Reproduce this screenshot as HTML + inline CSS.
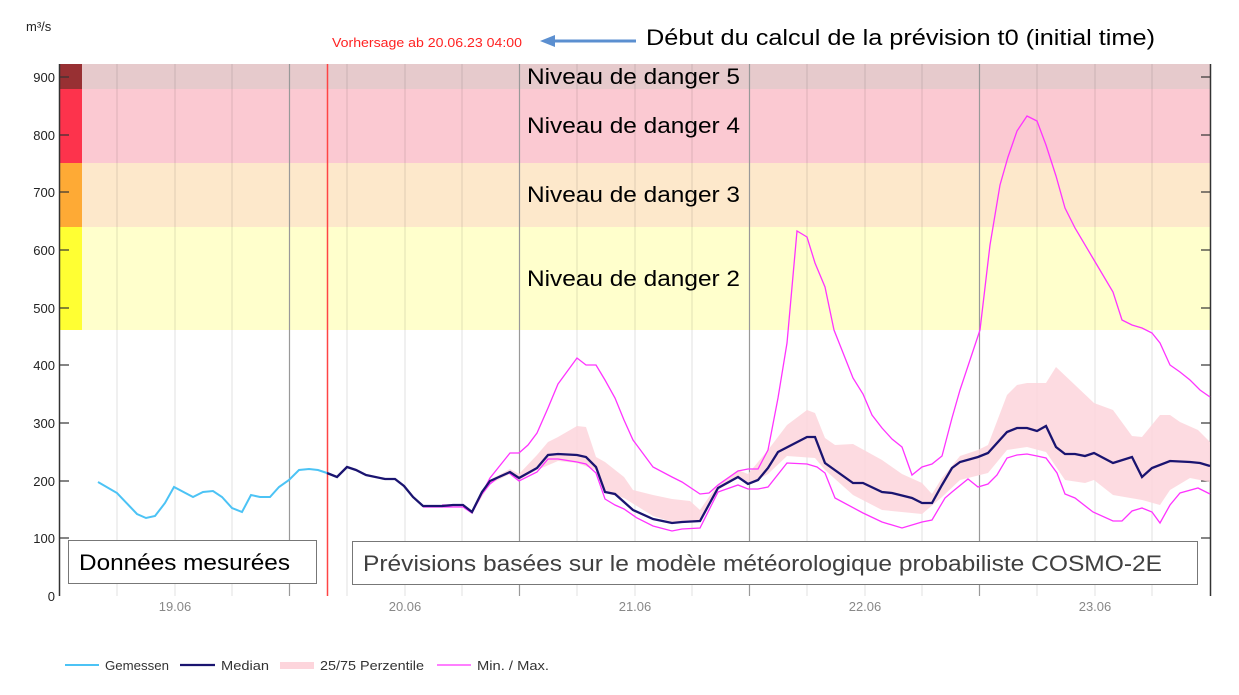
<!DOCTYPE html>
<html><head><meta charset="utf-8"><style>
body{margin:0;background:#fff;width:1239px;height:695px;overflow:hidden}
svg{display:block;font-family:"Liberation Sans",sans-serif}
</style></head><body>
<svg width="1239" height="695" viewBox="0 0 1239 695" xmlns="http://www.w3.org/2000/svg">
<rect x="82" y="64" width="1128" height="25" fill="#e6cacc"/>
<rect x="82" y="89" width="1128" height="74" fill="#fbc9d2"/>
<rect x="82" y="163" width="1128" height="64" fill="#fde8cb"/>
<rect x="82" y="227" width="1128" height="103" fill="#ffffcc"/>
<rect x="60" y="64" width="22" height="25" fill="#983033"/>
<rect x="60" y="89" width="22" height="74" fill="#fd334c"/>
<rect x="60" y="163" width="22" height="64" fill="#feaa35"/>
<rect x="60" y="227" width="22" height="103" fill="#ffff33"/>
<g stroke="#000" stroke-opacity="0.08" stroke-width="1.5">
<line x1="117" y1="64" x2="117" y2="596"/><line x1="175" y1="64" x2="175" y2="596"/><line x1="232" y1="64" x2="232" y2="596"/>
<line x1="347" y1="64" x2="347" y2="596"/><line x1="405" y1="64" x2="405" y2="596"/><line x1="462" y1="64" x2="462" y2="596"/>
<line x1="577" y1="64" x2="577" y2="596"/><line x1="635" y1="64" x2="635" y2="596"/><line x1="692" y1="64" x2="692" y2="596"/>
<line x1="807" y1="64" x2="807" y2="596"/><line x1="865" y1="64" x2="865" y2="596"/><line x1="922" y1="64" x2="922" y2="596"/>
<line x1="1037" y1="64" x2="1037" y2="596"/><line x1="1095" y1="64" x2="1095" y2="596"/><line x1="1152" y1="64" x2="1152" y2="596"/>
</g>
<g stroke="#999" stroke-width="1.2">
<line x1="289.5" y1="64" x2="289.5" y2="596"/><line x1="519.5" y1="64" x2="519.5" y2="596"/><line x1="749.5" y1="64" x2="749.5" y2="596"/><line x1="979.5" y1="64" x2="979.5" y2="596"/>
</g>
<line x1="327.5" y1="64" x2="327.5" y2="596" stroke="#f44" stroke-width="1.5"/>
<line x1="59.5" y1="64" x2="59.5" y2="596" stroke="#333" stroke-width="1.5"/>
<line x1="1210.5" y1="64" x2="1210.5" y2="596" stroke="#333" stroke-width="1.5"/>
<g stroke="#333" stroke-width="1.2">
<line x1="60" y1="77" x2="69" y2="77"/><line x1="60" y1="135" x2="69" y2="135"/><line x1="60" y1="192" x2="69" y2="192"/><line x1="60" y1="250" x2="69" y2="250"/><line x1="60" y1="308" x2="69" y2="308"/><line x1="60" y1="365" x2="69" y2="365"/><line x1="60" y1="423" x2="69" y2="423"/><line x1="60" y1="481" x2="69" y2="481"/><line x1="60" y1="538" x2="69" y2="538"/>
<line x1="1201" y1="77" x2="1210" y2="77"/><line x1="1201" y1="135" x2="1210" y2="135"/><line x1="1201" y1="192" x2="1210" y2="192"/><line x1="1201" y1="250" x2="1210" y2="250"/><line x1="1201" y1="308" x2="1210" y2="308"/><line x1="1201" y1="365" x2="1210" y2="365"/><line x1="1201" y1="423" x2="1210" y2="423"/><line x1="1201" y1="481" x2="1210" y2="481"/><line x1="1201" y1="538" x2="1210" y2="538"/>
</g>
<g font-size="13" fill="#222" text-anchor="end">
<text x="55" y="82">900</text><text x="55" y="140">800</text><text x="55" y="197">700</text><text x="55" y="255">600</text><text x="55" y="313">500</text><text x="55" y="370">400</text><text x="55" y="428">300</text><text x="55" y="486">200</text><text x="55" y="543">100</text><text x="55" y="601">0</text>
</g>
<text x="26" y="31" font-size="13" fill="#222">m³/s</text>
<g font-size="13" fill="#888" text-anchor="middle">
<text x="175" y="611">19.06</text><text x="405" y="611">20.06</text><text x="635" y="611">21.06</text><text x="865" y="611">22.06</text><text x="1095" y="611">23.06</text>
</g>
<polygon fill="#fdd5dc" fill-opacity="0.85" points="472,510 490,480 510,469 519,474 537,455 548,442 558,437 577,426 586,427 596,457 605,462 624,477 633,490 653,495 672,499 690,501 700,510 718,484 738,470 748,474 768,450 787,425 807,410 815,413 825,438 835,445 853,444 882,460 902,474 922,483 932,494 942,478 960,456 978,450 988,445 1007,395 1017,385 1027,383 1046,383 1056,367 1075,385 1094,403 1113,410 1132,436 1142,437 1160,415 1170,415 1180,422 1198,430 1210,442 1210,482 1190,478 1170,490 1160,505 1142,500 1113,495 1094,480 1085,483 1065,480 1046,452 1027,447 1007,450 988,473 980,475 960,480 942,497 922,514 882,510 853,495 825,470 815,458 787,456 768,474 748,485 738,478 718,490 700,521 672,522 653,516 624,498 605,493 596,470 577,463 558,461 537,470 519,480 510,474 490,484 472,513"/>
<polyline fill="none" stroke="#ff33ff" stroke-width="1.3" points="442,505 463,505 472,512 490,478 510,453 519,453 528,445 537,433 548,408 558,384 577,358 586,365 596,365 605,380 615,398 624,420 633,440 653,467 672,477 682,482 700,494 709,493 718,485 738,471 748,469 758,469 768,450 778,398 787,343 797,231 807,237 815,263 825,287 834,330 853,378 863,394 872,415 882,428 892,439 902,447 912,475 922,467 932,464 942,456 952,418 960,390 980,330 990,245 1000,185 1008,157 1017,131 1027,116 1037,121 1046,145 1056,176 1065,208 1075,228 1094,260 1113,292 1122,320 1132,325 1142,328 1152,333 1160,343 1170,365 1180,372 1190,380 1200,390 1210,397"/>
<polyline fill="none" stroke="#ff33ff" stroke-width="1.3" points="423,507 442,507 463,507 472,513 482,494 490,484 500,476 509,473 519,481 537,472 548,459 558,459 577,462 586,464 596,473 605,499 615,505 624,509 637,518 653,526 672,531 682,529 700,528 718,492 738,485 748,489 758,489 768,487 787,463 807,464 817,467 825,473 835,498 863,513 882,522 902,528 922,522 932,520 945,498 952,492 968,479 978,487 988,484 997,475 1007,458 1017,455 1027,454 1037,456 1046,458 1057,473 1065,494 1075,498 1093,512 1113,521 1122,521 1132,511 1142,508 1152,512 1160,523 1170,505 1180,493 1198,488 1210,494"/>
<polyline fill="none" stroke="#4cc3f5" stroke-width="2" points="98,482 117,493 137,514 146,518 155,516 165,503 174,487 193,497 203,492 213,491 222,497 232,508 242,512 251,495 260,497 270,497 279,487 289,480 299,470 309,469 318,470 327,473"/>
<polyline fill="none" stroke="#1a1470" stroke-width="2.3" points="327,473 337,477 347,467 356,470 366,475 385,479 395,479 404,486 413,497 423,506 442,506 453,505 463,505 472,512 482,492 490,481 510,472 519,478 537,468 548,455 558,454 577,455 586,457 596,467 605,492 615,494 633,510 653,519 672,523 682,522 700,521 718,488 738,477 748,484 758,480 768,468 778,452 807,437 815,437 825,463 853,483 863,483 882,492 892,493 912,498 922,503 932,503 942,485 952,468 960,462 978,457 988,453 1007,432 1017,428 1027,428 1037,431 1046,426 1056,447 1065,454 1075,454 1085,456 1094,453 1113,463 1132,457 1142,477 1152,468 1170,461 1190,462 1200,463 1210,466"/>
<g font-size="22" fill="#000">
<text x="527" y="84" textLength="213" lengthAdjust="spacingAndGlyphs">Niveau de danger 5</text>
<text x="527" y="133" textLength="213" lengthAdjust="spacingAndGlyphs">Niveau de danger 4</text>
<text x="527" y="202" textLength="213" lengthAdjust="spacingAndGlyphs">Niveau de danger 3</text>
<text x="527" y="286" textLength="213" lengthAdjust="spacingAndGlyphs">Niveau de danger 2</text>
</g>
<rect x="68.5" y="540.5" width="248" height="43" fill="#fff" stroke="#777"/>
<text x="79" y="570" font-size="22" fill="#000" textLength="211" lengthAdjust="spacingAndGlyphs">Données mesurées</text>
<rect x="352.5" y="541.5" width="845" height="43" fill="#fff" stroke="#777"/>
<text x="363" y="571" font-size="22" fill="#404040" textLength="799" lengthAdjust="spacingAndGlyphs">Prévisions basées sur le modèle météorologique probabiliste COSMO-2E</text>
<text x="332" y="47" font-size="13" fill="#f22" textLength="190" lengthAdjust="spacingAndGlyphs">Vorhersage ab 20.06.23 04:00</text>
<line x1="552" y1="41" x2="636" y2="41" stroke="#5b8fd0" stroke-width="3"/>
<polygon points="540,41 555,35 555,47" fill="#5b8fd0"/>
<text x="646" y="45" font-size="22" fill="#000" textLength="509" lengthAdjust="spacingAndGlyphs">Début du calcul de la prévision t0 (initial time)</text>
<line x1="65" y1="665" x2="99" y2="665" stroke="#4cc3f5" stroke-width="2"/>
<text x="105" y="670" font-size="13" fill="#333" textLength="64" lengthAdjust="spacingAndGlyphs">Gemessen</text>
<line x1="180" y1="665" x2="215" y2="665" stroke="#1a1470" stroke-width="2.3"/>
<text x="221" y="670" font-size="13" fill="#333" textLength="48" lengthAdjust="spacingAndGlyphs">Median</text>
<rect x="280" y="662" width="34" height="7" fill="#fdd5dc"/>
<text x="320" y="670" font-size="13" fill="#333" textLength="104" lengthAdjust="spacingAndGlyphs">25/75 Perzentile</text>
<line x1="437" y1="665" x2="471" y2="665" stroke="#ff33ff" stroke-width="1.3"/>
<text x="477" y="670" font-size="13" fill="#333" textLength="72" lengthAdjust="spacingAndGlyphs">Min. / Max.</text>
</svg>
</body></html>
